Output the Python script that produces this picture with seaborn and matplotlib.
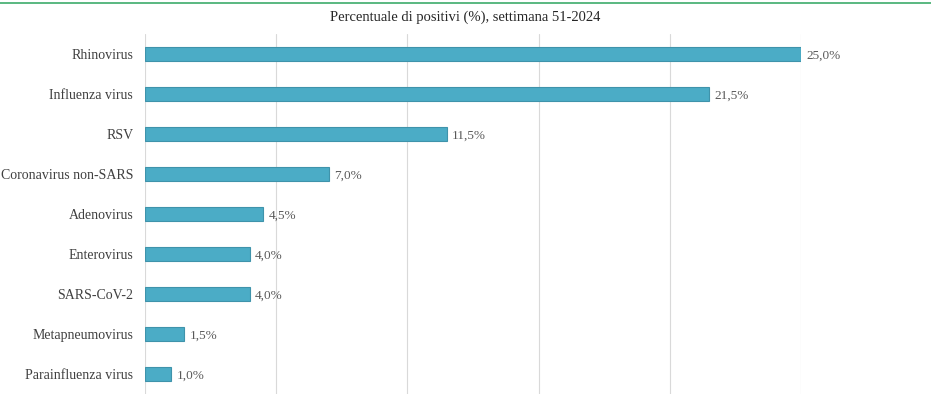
import matplotlib
matplotlib.use("Agg")
import matplotlib.pyplot as plt
import seaborn as sns
import pandas as pd

sns.set_style("white")
plt.rcParams['font.family'] = ['Liberation Serif', 'DejaVu Serif']

# dati
virus = ['Rhinovirus', 'Influenza virus', 'RSV', 'Coronavirus non-SARS',
         'Adenovirus', 'Enterovirus', 'SARS-CoV-2', 'Metapneumovirus',
         'Parainfluenza virus']
positivi = [25.0, 21.5, 11.5, 7.0, 4.5, 4.0, 4.0, 1.5, 1.0]
titolo = 'Percentuale di positivi (%), settimana 51-2024'

df = pd.DataFrame({'virus': virus, 'positivi': positivi})

fig = plt.figure(figsize=(9.31, 3.99), dpi=100)
ax = fig.add_axes([145 / 931, 1 - 394 / 399, (801 - 145) / 931, 360 / 399])

sns.barplot(data=df, x='positivi', y='virus', color='#4bacc6', width=0.35,
            edgecolor='#3f93ab', linewidth=0.8, saturation=1, ax=ax)

ax.set_xlim(0, 25)
ax.set_ylim(8.5, -0.5)
ax.set_xticks([0, 5, 10, 15, 20, 25])
ax.xaxis.grid(True, color='#d9d9d9', linewidth=0.8)
ax.set_axisbelow(True)
ax.tick_params(axis='x', length=0, labelbottom=False)
ax.tick_params(axis='y', length=0, labelsize=10, labelcolor='#404040', pad=8.5)
ax.set_xlabel('')
ax.set_ylabel('')
for s in ax.spines.values():
    s.set_visible(False)

for i, v in enumerate(positivi):
    ax.text(v + 0.2, i, f'{v:.1f}%'.replace('.', ','), va='center_baseline',
            ha='left', fontsize=9.5, color='#595959', clip_on=False)

fig.text(0.5, 1 - 17 / 399, titolo, ha='center', va='center', fontsize=10.5,
         color='#262626')
fig.add_artist(plt.Line2D([0, 1], [1 - 2.5 / 399] * 2, color='#3dab6b',
                          linewidth=1.2, transform=fig.transFigure))

fig.savefig('out.png', dpi=100)
